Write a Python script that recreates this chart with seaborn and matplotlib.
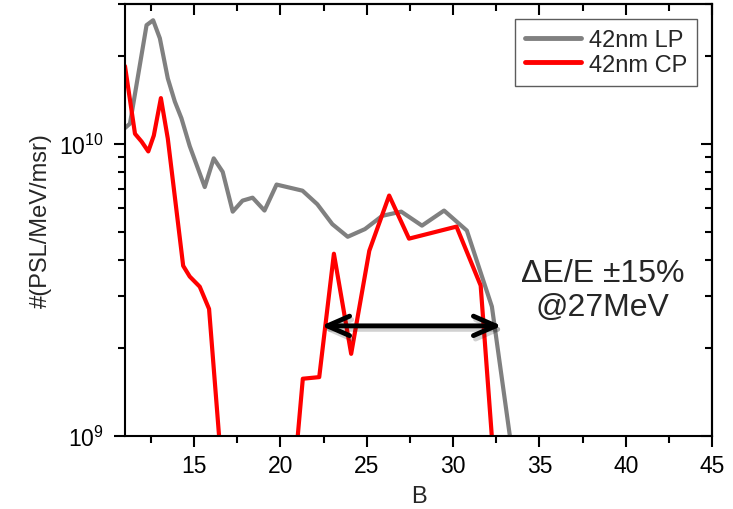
import numpy as np
import pandas as pd
import matplotlib
matplotlib.use("Agg")
import matplotlib.pyplot as plt
import matplotlib.patheffects as pe
from matplotlib.ticker import FixedLocator, LogLocator, NullFormatter, FuncFormatter
import seaborn as sns

# ---- data ----
lp_x = [11.0, 11.29, 12.25, 12.63, 13.02, 13.48, 13.89, 14.27, 14.75, 15.62, 16.14,
        16.66, 17.24, 17.81, 18.39, 19.08, 19.78, 21.28, 22.14, 23.01, 23.9, 24.9,
        25.9, 27.0, 28.2, 29.48, 30.8, 32.25, 34.0]
lp_y = [1.13e10, 1.17e10, 2.54e10, 2.64e10, 2.29e10, 1.67e10, 1.39e10, 1.22e10, 9.8e9,
        7.1e9, 8.9e9, 8.0e9, 5.85e9, 6.38e9, 6.53e9, 5.9e9, 7.24e9, 6.9e9, 6.2e9,
        5.3e9, 4.8e9, 5.1e9, 5.66e9, 5.85e9, 5.24e9, 5.9e9, 5.04e9, 2.77e9, 5.0e8]

cp_x = [11.0, 11.58, 11.96, 12.35, 12.67, 13.08, 13.48, 14.37, 14.75, 15.33, 15.87,
        16.9, 20.5, 21.3, 22.25, 23.1, 24.1, 25.15, 26.3, 27.45, 30.2, 31.6, 32.9]
cp_y = [1.84e10, 1.08e10, 1.016e10, 9.4e9, 1.065e10, 1.43e10, 1.04e10, 3.82e9, 3.51e9,
        3.24e9, 2.72e9, 4.6e8, 4.6e8, 1.57e9, 1.59e9, 4.2e9, 1.91e9, 4.3e9, 6.64e9,
        4.73e9, 5.2e9, 3.27e9, 3.0e8]

series_names = ["42nm LP", "42nm CP"]
series_colors = ["#808080", "#ff0000"]

x_ticks = [15, 20, 25, 30, 35, 40, 45]
x_minor = [12.5, 17.5, 22.5, 27.5, 32.5, 37.5, 42.5]
y_ticks = [1e9, 1e10]

annot_text = "\u0394E/E \u00b115%\n@27MeV"
arrow_left, arrow_right, arrow_y = 22.37, 32.82, 2.38e9

# ---- build table ----
df = pd.concat([
    pd.DataFrame({"B": lp_x, "val": lp_y, "series": series_names[0]}),
    pd.DataFrame({"B": cp_x, "val": cp_y, "series": series_names[1]}),
], ignore_index=True)

sns.set_theme(style="ticks")
plt.rcParams["font.family"] = ["Liberation Sans", "DejaVu Sans"]
plt.rcParams["mathtext.fontset"] = "custom"
plt.rcParams["mathtext.rm"] = "Liberation Sans"
plt.rcParams["mathtext.it"] = "Liberation Sans:italic"
plt.rcParams["mathtext.default"] = "regular"
plt.rcParams["axes.edgecolor"] = "black"
plt.rcParams["xtick.color"] = "black"
plt.rcParams["ytick.color"] = "black"

fig = plt.figure(figsize=(7.33, 5.10), dpi=100)
ax = fig.add_axes([0.1705, 0.1431, 0.8009, 0.8471])

sns.lineplot(data=df, x="B", y="val", hue="series", hue_order=series_names,
             palette=dict(zip(series_names, series_colors)), estimator=None,
             sort=False, lw=3, ax=ax)

ax.set_yscale("log")
ax.set_xlim(11, 45)
ax.set_ylim(1e9, 3e10)

for s in ax.spines.values():
    s.set_linewidth(1.5)
    s.set_color("black")

ax.xaxis.set_major_locator(FixedLocator(x_ticks))
ax.xaxis.set_minor_locator(FixedLocator(x_minor))
ax.yaxis.set_major_locator(FixedLocator(y_ticks))
ax.yaxis.set_minor_locator(LogLocator(base=10, subs=np.arange(2, 10)))
ax.yaxis.set_minor_formatter(NullFormatter())
ax.yaxis.set_major_formatter(FuncFormatter(lambda v, p: r"$10^{%d}$" % round(np.log10(v))))

ax.tick_params(which="major", direction="out", length=8, width=1.5, labelsize=16.5,
               top=False, right=False)
ax.tick_params(which="minor", direction="out", length=5, width=1.5, top=False, right=False)
ax.tick_params(axis="x", pad=5)
ax.tick_params(axis="y", pad=7)

# mirrored ticks on top/right pointing inward
sec_x = ax.secondary_xaxis("top")
sec_x.xaxis.set_major_locator(FixedLocator(x_ticks))
sec_x.xaxis.set_minor_locator(FixedLocator(x_minor))
sec_x.tick_params(which="major", direction="in", length=8, width=1.5, labeltop=False)
sec_x.tick_params(which="minor", direction="in", length=5, width=1.5)
sec_x.spines["top"].set_linewidth(1.5)

sec_y = ax.secondary_yaxis("right")
sec_y.yaxis.set_major_locator(FixedLocator(y_ticks))
sec_y.yaxis.set_minor_locator(LogLocator(base=10, subs=np.arange(2, 10)))
sec_y.yaxis.set_minor_formatter(NullFormatter())
sec_y.tick_params(which="major", direction="in", length=8, width=1.5, labelright=False)
sec_y.tick_params(which="minor", direction="in", length=5, width=1.5)
sec_y.spines["right"].set_linewidth(1.5)

ax.set_xlabel("B", fontsize=17, labelpad=6)
ax.set_ylabel("#(PSL/MeV/msr)", fontsize=17, labelpad=5)

leg = ax.legend(loc="upper right", fontsize=17, frameon=True, fancybox=False,
                borderaxespad=0.65, handlelength=2.4, handletextpad=0.3,
                borderpad=0.42, labelspacing=0.1, title=None)
leg.get_frame().set_edgecolor("#333333")
leg.get_frame().set_linewidth(1.0)
for line in leg.get_lines():
    line.set_linewidth(3.5)

ax.text(0.814, 0.338, annot_text, transform=ax.transAxes, ha="center", va="center",
        fontsize=23, linespacing=1.15)

ax.annotate("", xy=(arrow_left, arrow_y), xytext=(arrow_right, arrow_y),
            arrowprops=dict(arrowstyle="<->,head_length=1.6,head_width=0.7",
                            lw=3.5, color="black", shrinkA=0, shrinkB=0,
                            mutation_scale=10,
                            path_effects=[pe.SimpleLineShadow(offset=(1.5, -2.5),
                                                              shadow_color="black",
                                                              alpha=0.18),
                                          pe.Normal()]))

fig.savefig("out.png", dpi=100)
